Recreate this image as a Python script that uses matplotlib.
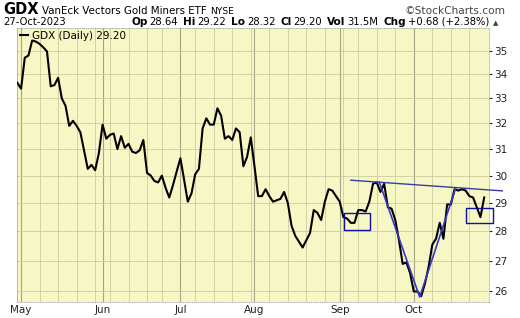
import matplotlib
matplotlib.use('Agg')
import matplotlib.pyplot as plt
import matplotlib.ticker as mticker
from matplotlib.patches import Rectangle
import numpy as np
import pandas as pd

# GDX daily closes, 28-Apr-2023 .. 27-Oct-2023
closes = [33.64, 33.4, 34.7, 34.8, 35.45, 35.4, 35.3, 35.15, 34.97, 33.5,
          33.55, 33.85, 33.0, 32.7, 31.9, 32.1, 31.9, 31.65, 30.95, 30.25,
          30.4, 30.2, 30.85, 31.95, 31.4, 31.55, 31.6, 31.0, 31.5, 31.05,
          31.2, 30.9, 30.85, 30.95, 31.35, 30.1, 30.0, 29.8, 29.75, 30.0,
          29.55, 29.2, 29.65, 30.15, 30.65, 29.85, 29.05, 29.35, 30.05, 30.25,
          31.8, 32.2, 31.95, 31.95, 32.6, 32.3, 31.4, 31.5, 31.35, 31.8,
          31.65, 30.35, 30.7, 31.45, 30.35, 29.25, 29.25, 29.5, 29.25, 29.05,
          29.1, 29.15, 29.4, 29.0, 28.2, 27.85, 27.65, 27.45, 27.7, 27.95,
          28.75, 28.65, 28.4, 29.05, 29.5, 29.45, 29.25, 29.05, 28.5, 28.45,
          28.3, 28.3, 28.75, 28.75, 28.7, 29.05, 29.7, 29.75, 29.4, 29.7,
          28.85, 28.8, 28.4, 27.7, 26.9, 26.95, 26.6, 26.0, 26.0, 25.85,
          26.25, 26.8, 27.55, 27.75, 28.3, 27.75, 28.95, 28.95, 29.5, 29.45,
          29.5, 29.45, 29.25, 29.2, 28.85, 28.5, 29.2]
holidays = ['2023-05-29', '2023-06-19', '2023-07-04', '2023-09-04']
price_ticks = [26, 27, 28, 29, 30, 31, 32, 33, 34, 35]

# hand-drawn annotations (trading-day index, price)
resistance = ([90.0, 130.9], [29.83, 29.44])
v_line = ([97.7, 108.6, 118.2], [29.76, 25.82, 29.50])
boxes = [(88.2, 28.06, 7.1, 0.57), (121.2, 28.30, 7.2, 0.53)]

bday = pd.offsets.CustomBusinessDay(holidays=holidays)
dates = pd.date_range('2023-04-28', '2023-10-27', freq=bday)
x = np.arange(len(dates))

fig = plt.figure(figsize=(5.2, 3.18), dpi=100)
ax = fig.add_axes([17/520, 1 - 301.5/318, 472/520, 273.5/318])
ax.set_facecolor('#f7f7c5')

ax.set_yscale('log')
ax.set_ylim(25.68, 36.0)
ax.set_xlim(-0.1, 127.3)

# grid: weekly thin, monthly darker
wk = dates.to_series().dt.isocalendar().week.values
week_starts = [i for i in range(1, len(dates)) if wk[i] != wk[i-1]]
month_starts = [i for i in range(1, len(dates)) if dates[i].month != dates[i-1].month]
for i in week_starts:
    if i not in month_starts:
        ax.axvline(i, color='#cbcb9f', lw=0.6, zorder=1)
for i in month_starts:
    ax.axvline(i, color='#a6a687', lw=0.8, zorder=1)
for p in price_ticks:
    ax.axhline(p, color='#cbcb9f', lw=0.6, zorder=1)

ax.plot(x, closes, color='black', lw=1.5, zorder=3, label='GDX (Daily) 29.20')

ax.plot(*resistance, color='#3a3aa8', lw=1.0, zorder=4, clip_on=False)
ax.plot(*v_line, color='#3838c8', lw=1.2, zorder=4)
for bx, by, bw, bh in boxes:
    ax.add_patch(Rectangle((bx, by), bw, bh, fill=False, ec='#10109c', lw=1.0,
                           zorder=5, clip_on=False))

ax.yaxis.tick_right()
ax.yaxis.set_major_locator(mticker.FixedLocator(price_ticks))
ax.yaxis.set_major_formatter(mticker.FixedFormatter([str(p) for p in price_ticks]))
ax.yaxis.set_minor_locator(mticker.NullLocator())
ax.tick_params(axis='y', length=2, pad=1.5, labelsize=7.5, colors='#222222')
ax.set_xticks(month_starts)
ax.set_xticklabels([dates[i].strftime('%b') for i in month_starts])
ax.tick_params(axis='x', length=0, pad=2.5, labelsize=7.5, colors='#222222')

for s in ax.spines.values():
    s.set_color('#aaaaaa')
    s.set_linewidth(0.6)
ax.spines['top'].set_linestyle(':')
ax.spines['right'].set_linestyle(':')
ax.spines['bottom'].set_linestyle(':')

ax.legend(loc='upper left', frameon=False, fontsize=7.5, handlelength=0.8,
          handletextpad=0.4, borderaxespad=0.0, borderpad=0.25)

# header
def put(parts, x0, y0):
    r = fig.canvas.get_renderer()
    xx = x0
    for txt, kw, gap in parts:
        t = fig.text(xx / 520, 1 - y0 / 318, txt, va='baseline', ha='left', **kw)
        xx += t.get_window_extent(renderer=r).width + gap

put([('GDX', dict(fontsize=10.5, fontweight='bold'), 3),
     ('VanEck Vectors Gold Miners ETF', dict(fontsize=7.4), 4),
     ('NYSE', dict(fontsize=6.6), 0)], 3, 14)
fig.text(506 / 520, 1 - 14 / 318, '\u00a9StockCharts.com', ha='right',
         va='baseline', fontsize=7.6, color='#444444')
fig.text(3 / 520, 1 - 25 / 318, '27-Oct-2023', ha='left', va='baseline', fontsize=7.2)
b = dict(fontsize=7.6, fontweight='bold')
n = dict(fontsize=7.2)
put([('Op', b, 2), ('28.64', n, 5), ('Hi', b, 2), ('29.22', n, 5),
     ('Lo', b, 2), ('28.32', n, 5), ('Cl', b, 2), ('29.20', n, 5),
     ('Vol', b, 2), ('31.5M', n, 5), ('Chg', b, 2), ('+0.68 (+2.38%)', n, 3),
     ('\u25b2', dict(fontsize=5, color='#1a5a1a'), 0)], 131, 25)

fig.savefig('out.png', dpi=100, facecolor='white')
